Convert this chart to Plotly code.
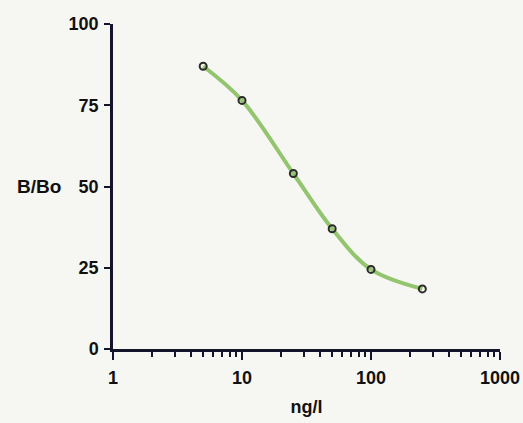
import plotly.graph_objects as go

conc = [5, 10, 25, 50, 100, 250]
b_bo = [87, 76.5, 54, 37, 24.5, 18.5]
x_tick_vals = [1, 10, 100, 1000]
x_tick_text = ["1", "10", "100", "1000"]
y_tick_vals = [0, 25, 50, 75, 100]
minor_vals = [m * d for d in (1, 10, 100) for m in range(2, 10)]

FONT = "Liberation Sans, Arial, sans-serif"
AX = "#14142a"

fig = go.Figure()
fig.add_trace(go.Scatter(
    x=conc, y=b_bo, mode="lines",
    line=dict(color="#93c46e", width=4, shape="spline", smoothing=1.0),
    hoverinfo="skip", showlegend=False))
fig.add_trace(go.Scatter(
    x=conc, y=b_bo, mode="markers",
    marker=dict(symbol="circle-open", size=7, color="#2a2a2a", line=dict(width=2)),
    showlegend=False))

fig.update_layout(
    width=523, height=423,
    margin=dict(l=113, r=23, t=24, b=74, autoexpand=False),
    paper_bgcolor="#f6f6f3", plot_bgcolor="#f6f6f3",
    font=dict(family=FONT, size=18, color="#111"),
    showlegend=False,
)
fig.update_xaxes(
    type="log", range=[0, 3], automargin=False,
    tickvals=x_tick_vals, ticktext=x_tick_text,
    showgrid=False, zeroline=False,
    showline=True, linewidth=2.5, linecolor=AX,
    ticks="outside", ticklen=8, tickwidth=2, tickcolor=AX,
    ticklabelstandoff=3,
    tickfont=dict(family=FONT, size=18, color="#111", weight="bold"),
    minor=dict(tickvals=minor_vals, ticks="outside", ticklen=5, tickwidth=2, tickcolor=AX, showgrid=False),
    title=dict(text="ng/l", font=dict(family=FONT, size=18, color="#111", weight="bold"), standoff=14),
)
fig.update_yaxes(
    range=[0, 100], tickvals=y_tick_vals, automargin=False,
    showgrid=False, zeroline=False,
    showline=True, linewidth=2.5, linecolor=AX,
    ticks="outside", ticklen=6, tickwidth=2, tickcolor=AX,
    ticklabelstandoff=2,
    tickfont=dict(family=FONT, size=18, color="#111", weight="bold"),
)
fig.add_annotation(
    text="B/Bo", xref="paper", yref="y", x=-0.19, y=50,
    showarrow=False, xanchor="center", yanchor="middle",
    font=dict(family=FONT, size=19, color="#111", weight="bold"),
)

fig.write_html("out.html")
